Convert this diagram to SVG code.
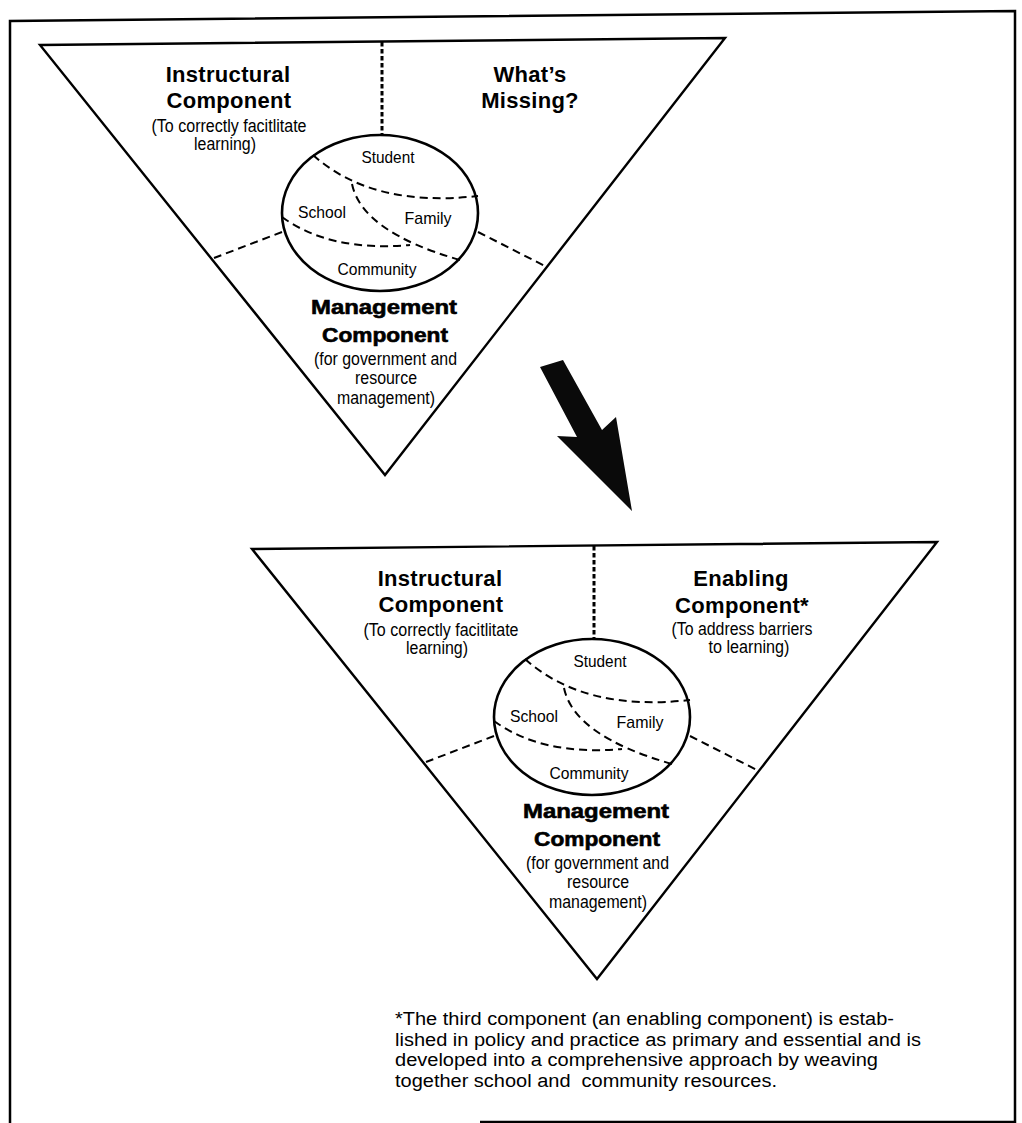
<svg xmlns="http://www.w3.org/2000/svg" width="1022" height="1123" viewBox="0 0 1022 1123">
<style>
.edge{fill:none;stroke:#000;stroke-width:2.4;stroke-linejoin:miter}
.frame{fill:none;stroke:#000;stroke-width:2.5}
.oval{fill:none;stroke:#000;stroke-width:2.6}
.dash{fill:none;stroke:#000;stroke-width:2;stroke-dasharray:8 5}
.vdash{fill:none;stroke:#000;stroke-width:3;stroke-dasharray:4.5 2.5}
.t{font-family:"Liberation Sans",Arial,Helvetica,sans-serif;fill:#000;text-anchor:middle}
.h{font-size:22px;font-weight:bold;letter-spacing:0.3px}
.m{font-size:20px;font-weight:bold;stroke:#000;stroke-width:0.6}
.s{font-size:17.5px}
.c{font-size:17px}
.fn{font-family:"Liberation Sans",Arial,Helvetica,sans-serif;font-size:18px;fill:#000;white-space:pre}
</style>
<defs>
<g id="ovalShape">
<ellipse class="oval" cx="380" cy="213" rx="98" ry="78"/>
<path class="dash" d="M313,155 Q372,208 478,196"/>
<path class="dash" d="M352,184 Q362,232 460,260"/>
<path class="dash" d="M282,217 Q330,252 410,245"/>
<text class="t c" x="388" y="163" textLength="53" lengthAdjust="spacingAndGlyphs">Student</text>
<text class="t c" x="322" y="218" textLength="48" lengthAdjust="spacingAndGlyphs">School</text>
<text class="t c" x="428" y="224" textLength="47" lengthAdjust="spacingAndGlyphs">Family</text>
<text class="t c" x="377" y="275" textLength="79" lengthAdjust="spacingAndGlyphs">Community</text>
</g>
</defs>

<g id="frame">
<path class="frame" d="M10,1123 L10,21 L1015,11 L1015,1122 L480,1122"/>
</g>

<g id="top-triangle">
<polygon class="edge" points="40,45 725,38 385,475"/>
<text class="t h" x="228" y="82">Instructural</text>
<text class="t h" x="229" y="108">Component</text>
<text class="t s" x="229" y="132" textLength="155" lengthAdjust="spacingAndGlyphs">(To correctly facitlitate</text>
<text class="t s" x="225" y="150" textLength="62" lengthAdjust="spacingAndGlyphs">learning)</text>
<text class="t h" x="530" y="82">What’s</text>
<text class="t h" x="530" y="108">Missing?</text>
<text class="t m" x="384" y="314" textLength="146" lengthAdjust="spacingAndGlyphs">Management</text>
<text class="t m" x="385" y="342" textLength="126" lengthAdjust="spacingAndGlyphs">Component</text>
<text class="t s" x="385.5" y="365" textLength="143" lengthAdjust="spacingAndGlyphs">(for government and</text>
<text class="t s" x="386" y="384" textLength="62" lengthAdjust="spacingAndGlyphs">resource</text>
<text class="t s" x="386" y="404" textLength="98" lengthAdjust="spacingAndGlyphs">management)</text>
</g>

<g id="top-circle">
<use href="#ovalShape"/>
</g>

<g id="arrow">
<polygon points="540,367 563,360 602,430 616,417 632,511 557,436 577,437" fill="#0a0a0a"/>
</g>

<g id="bottom-triangle" transform="translate(212,504)">
<polygon class="edge" points="40,45 725,38 385,475"/>
<text class="t h" x="228" y="82">Instructural</text>
<text class="t h" x="229" y="108">Component</text>
<text class="t s" x="229" y="132" textLength="155" lengthAdjust="spacingAndGlyphs">(To correctly facitlitate</text>
<text class="t s" x="225" y="150" textLength="62" lengthAdjust="spacingAndGlyphs">learning)</text>
<text class="t h" x="529" y="82">Enabling</text>
<text class="t h" x="530" y="109">Component*</text>
<text class="t s" x="530" y="131" textLength="141" lengthAdjust="spacingAndGlyphs">(To address barriers</text>
<text class="t s" x="537" y="149" textLength="81" lengthAdjust="spacingAndGlyphs">to learning)</text>
<text class="t m" x="384" y="314" textLength="146" lengthAdjust="spacingAndGlyphs">Management</text>
<text class="t m" x="385" y="342" textLength="126" lengthAdjust="spacingAndGlyphs">Component</text>
<text class="t s" x="385.5" y="365" textLength="143" lengthAdjust="spacingAndGlyphs">(for government and</text>
<text class="t s" x="386" y="384" textLength="62" lengthAdjust="spacingAndGlyphs">resource</text>
<text class="t s" x="386" y="404" textLength="98" lengthAdjust="spacingAndGlyphs">management)</text>
</g>

<g id="bottom-circle" transform="translate(212,504)">
<use href="#ovalShape"/>
</g>

<g id="connectors">
<line class="vdash" x1="382" y1="42" x2="382" y2="135"/>
<line class="dash" x1="282" y1="232" x2="214" y2="258"/>
<line class="dash" x1="478" y1="232" x2="545" y2="266"/>
<line class="vdash" x1="594" y1="546" x2="594" y2="639"/>
<line class="dash" x1="494" y1="736" x2="426" y2="762"/>
<line class="dash" x1="690" y1="736" x2="757" y2="770"/>
</g>

<g id="footnote">
<text class="fn" x="395" y="1025" textLength="499" lengthAdjust="spacingAndGlyphs">*The third component (an enabling component) is estab-</text>
<text class="fn" x="395" y="1046" textLength="526" lengthAdjust="spacingAndGlyphs">lished in policy and practice as primary and essential and is</text>
<text class="fn" x="395" y="1066" textLength="483" lengthAdjust="spacingAndGlyphs">developed into a comprehensive approach by weaving</text>
<text class="fn" x="395" y="1087" textLength="382" lengthAdjust="spacingAndGlyphs">together school and  community resources.</text>
</g>
</svg>
